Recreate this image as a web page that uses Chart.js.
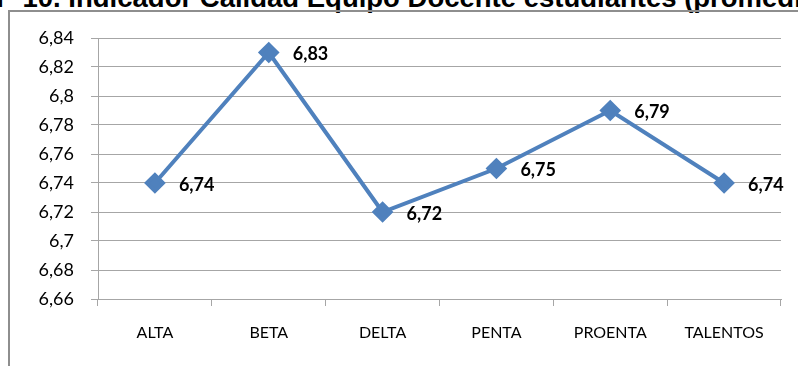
<!DOCTYPE html>
<html>
<head>
<meta charset="utf-8">
<script src="https://cdn.jsdelivr.net/npm/chart.js@4/dist/chart.umd.min.js"></script>
<style>
  html, body { margin: 0; padding: 0; background: #fff; overflow: hidden; }
  #wrap { position: relative; width: 798px; height: 366px; }
  #titulo {
    position: absolute; left: -16px; top: -16px; white-space: nowrap;
    font: bold 27.5px "Liberation Sans", Arial, sans-serif; line-height: 27.5px; color: #000;
  }
  #marco {
    position: absolute; left: 8px; top: 10px; right: -10px; bottom: -10px;
    border-left: 2px solid #8e8e8e; border-top: 2px solid #8e8e8e;
  }
  canvas { position: absolute; left: 0; top: 0; }
</style>
</head>
<body>
<div id="wrap">
  <div id="titulo">N° 10. Indicador Calidad Equipo Docente estudiantes (promedio)</div>
  <div id="marco"></div>
  <canvas id="grafico" width="798" height="366"></canvas>
</div>
<script>
// Datos
const carreras = ['ALTA', 'BETA', 'DELTA', 'PENTA', 'PROENTA', 'TALENTOS'];
const promedios = [6.74, 6.83, 6.72, 6.75, 6.79, 6.74];
const ejeMin = 6.66;
const ejeMax = 6.84;
const paso = 0.02;

const azul = '#4F81BD';
const gris = '#a6a6a6';

function coma(v) {
  return String(Math.round(v * 100) / 100).replace('.', ',');
}

// Etiquetas de valor al lado de cada punto
const etiquetas = {
  id: 'etiquetas',
  afterDatasetsDraw(chart) {
    const ctx = chart.ctx;
    const meta = chart.getDatasetMeta(0);
    ctx.save();
    ctx.font = 'bold 18px Lato, sans-serif';
    ctx.fillStyle = '#000';
    ctx.textAlign = 'left';
    ctx.textBaseline = 'middle';
    meta.data.forEach((p, i) => {
      ctx.fillText(coma(promedios[i]), p.x + 24, p.y + 2);
    });
    ctx.restore();
  }
};

new Chart(document.getElementById('grafico'), {
  type: 'line',
  data: {
    labels: carreras,
    datasets: [{
      data: promedios,
      borderColor: azul,
      backgroundColor: azul,
      borderWidth: 4,
      pointStyle: 'rectRot',
      pointRadius: 8,
      pointHoverRadius: 8,
      tension: 0
    }]
  },
  options: {
    responsive: false,
    animation: false,
    events: [],
    layout: { padding: { top: 38, right: 17, left: 0, bottom: 0 } },
    plugins: {
      legend: { display: false },
      tooltip: { enabled: false }
    },
    scales: {
      x: {
        offset: true,
        afterFit(scale) { scale.height = 67; },
        grid: {
          offset: true,
          drawOnChartArea: false,
          drawTicks: true,
          tickLength: 7,
          color: gris
        },
        border: { color: gris, width: 1 },
        ticks: {
          color: '#000',
          padding: 17,
          font: { family: 'Lato', size: 16 },
          maxRotation: 0
        }
      },
      y: {
        min: ejeMin,
        max: ejeMax,
        afterFit(scale) { scale.width = 98; },
        grid: { color: gris, tickLength: 7 },
        border: { color: gris, width: 1 },
        ticks: {
          stepSize: paso,
          color: '#000',
          padding: 17,
          font: { family: 'Lato', size: 18 },
          callback: v => coma(v)
        }
      }
    }
  },
  plugins: [etiquetas]
});
</script>
</body>
</html>
